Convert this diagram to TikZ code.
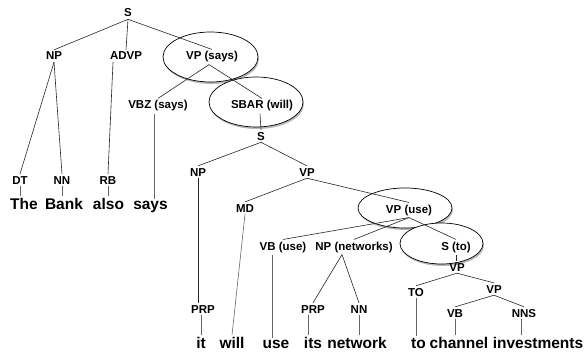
\documentclass[tikz,border=0pt]{standalone}
\usepackage{fontspec}
\setmainfont{Liberation Sans}
\usetikzlibrary{shadows}
\tikzset{
  cat/.style={anchor=base,inner sep=2pt,font=\fontsize{11.5}{13}\selectfont\bfseries},
  word/.style={anchor=base,inner sep=1.5pt,font=\fontsize{15.5}{18}\selectfont\bfseries},
  branch/.style={black!85,line width=0.6pt},
  leaf/.style={black!60,line width=0.6pt},
  head/.style={draw=black,line width=0.7pt,fill=white,
    drop shadow={shadow xshift=1pt,shadow yshift=-2pt,opacity=0.55}}
}
\begin{document}
\begin{tikzpicture}[x=1pt,y=-1pt]
  \useasboundingbox (0,0) rectangle (587,353);
  %% heads
  \draw[head] (210.5,57) ellipse [x radius=47.5pt,y radius=25pt];
  \draw[head] (256,102) ellipse [x radius=47pt,y radius=25pt];
  \draw[head] (405,208) ellipse [x radius=47pt,y radius=20pt];
  \draw[head] (441.5,243.5) ellipse [x radius=41.5pt,y radius=20.5pt];
  %% categories
  \node[cat] (s) at (128,17) {S};
  \node[cat] (np) at (54,60) {NP};
  \node[cat] (advp) at (126,60) {ADVP};
  \node[cat] (vpsays) at (212,60) {VP (says)};
  \node[cat] (vbz) at (158,109) {VBZ (says)};
  \node[cat] (sbar) at (262,109) {SBAR (will)};
  \node[cat] (sub) at (261,140) {S};
  \node[cat] (npsub) at (198,176) {NP};
  \node[cat] (vpsub) at (307,176) {VP};
  \node[cat] (dt) at (20,184) {DT};
  \node[cat] (nn) at (62,184) {NN};
  \node[cat] (rb) at (108,184) {RB};
  \node[cat] (md) at (245,212) {MD};
  \node[cat] (vpuse) at (409,213) {VP (use)};
  \node[cat] (vbuse) at (283,250) {VB (use)};
  \node[cat] (npnet) at (354,250) {NP (networks)};
  \node[cat] (sto) at (456,250) {S (to)};
  \node[cat] (vpto) at (457,271) {VP};
  \node[cat] (to) at (416,296) {TO};
  \node[cat] (vpch) at (494,293) {VP};
  \node[cat] (prpit) at (203,313) {PRP};
  \node[cat] (prpits) at (313,313) {PRP};
  \node[cat] (nnnet) at (359,313) {NN};
  \node[cat] (vb) at (455,317) {VB};
  \node[cat] (nns) at (524,317) {NNS};
  %% words
  \node[word] (the) at (24,209) {The};
  \node[word] (bank) at (64,209) {Bank};
  \node[word] (also) at (108.5,209) {also};
  \node[word] (says) at (150.5,209) {says};
  \node[word] (it) at (201,348) {it};
  \node[word] (will) at (232,348) {will};
  \node[word] (use) at (276,348) {use};
  \node[word] (its) at (313,348) {its};
  \node[word] (network) at (357,348) {network};
  \node[word] (wto) at (418.5,348) {to};
  \node[word] (channel) at (459,348) {channel};
  \node[word] (invest) at (538,348) {investments};
  %% branches
  \draw[branch] (s.south) -- (np.north);
  \draw[branch] (s.south) -- (advp.north);
  \draw[branch] (s.south) -- (vpsays.north);
  \draw[branch] (np.south) -- (dt.north);
  \draw[branch] (np.south) -- (nn.north);
  \draw[branch] ([xshift=-13pt]advp.south) -- (rb.north);
  \draw[branch] ([xshift=-3pt]vpsays.south) -- (vbz.north);
  \draw[branch] ([xshift=-3pt]vpsays.south) -- (sbar.north);
  \draw[branch] ([xshift=-2pt]sbar.south) -- (sub.north);
  \draw[branch] (sub.south) -- (npsub.north);
  \draw[branch] (sub.south) -- (vpsub.north);
  \draw[branch] (npsub.south) -- (npsub.south |- prpit.north);
  \draw[branch] (vpsub.south) -- (md.north);
  \draw[branch] (vpsub.south) -- (vpuse.north);
  \draw[branch] (vpuse.south) -- (vbuse.north);
  \draw[branch] (vpuse.south) -- (npnet.north);
  \draw[branch] (vpuse.south) -- (sto.north);
  \draw[branch] ([xshift=-12pt]npnet.south) -- (prpits.north);
  \draw[branch] ([xshift=-12pt]npnet.south) -- (nnnet.north);
  \draw[branch] (sto.south) -- (sto.south |- vpto.north);
  \draw[branch] (vpto.south) -- (to.north);
  \draw[branch] (vpto.south) -- (vpch.north);
  \draw[branch] (vpch.south) -- (vb.north);
  \draw[branch] (vpch.south) -- (nns.north);
  %% leaves
  \draw[leaf] (dt.south) -- (dt.south |- the.north);
  \draw[leaf] (nn.south) -- (nn.south |- bank.north);
  \draw[leaf] (rb.south) -- (rb.south |- also.north);
  \draw[leaf] ([xshift=-4pt]vbz.south) -- ([xshift=-4pt]vbz.south |- says.north);
  \draw[leaf] ([xshift=-2pt]prpit.south) -- ([xshift=-2pt]prpit.south |- it.north);
  \draw[leaf] (md.south) -- (will.north);
  \draw[leaf] ([xshift=-11pt]vbuse.south) -- ([xshift=-11pt]vbuse.south |- use.north);
  \draw[leaf] ([xshift=-5pt]prpits.south) -- ([xshift=-5pt]prpits.south |- its.north);
  \draw[leaf] (nnnet.south) -- (nnnet.south |- network.north);
  \draw[leaf] (to.south) -- (to.south |- wto.north);
  \draw[leaf] (vb.south) -- (vb.south |- channel.north);
  \draw[leaf] ([xshift=-3pt]nns.south) -- ([xshift=-3pt]nns.south |- invest.north);
\end{tikzpicture}
\end{document}
